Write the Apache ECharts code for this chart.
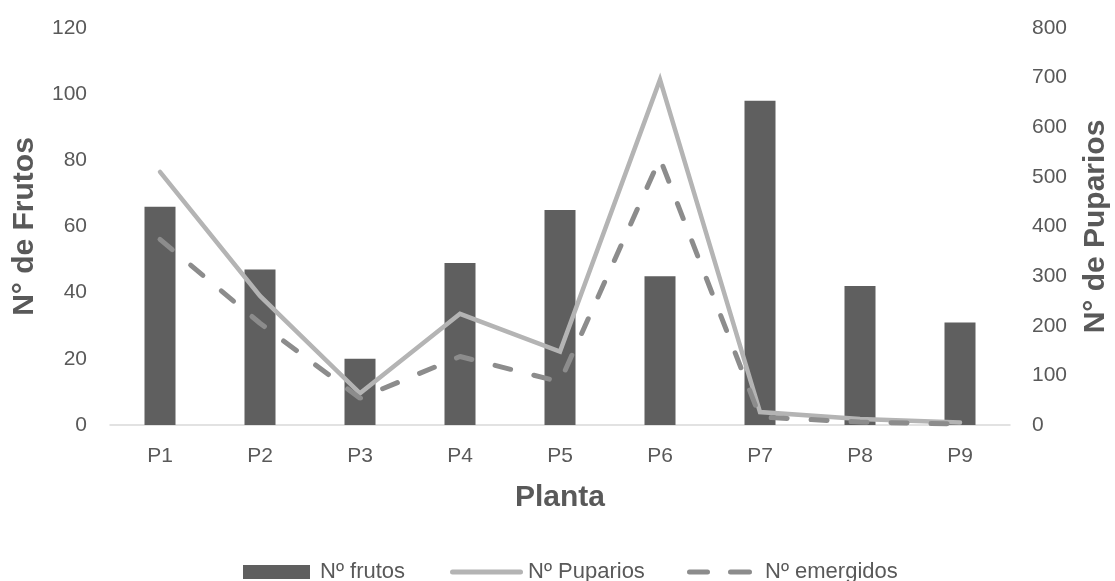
<!DOCTYPE html>
<html>
<head>
<meta charset="utf-8">
<script src="https://cdn.jsdelivr.net/npm/echarts@6/dist/echarts.min.js"></script>
<style>
html,body{margin:0;padding:0;background:#fff;}
#c{width:1115px;height:581px;}
</style>
</head>
<body>
<div id="c"></div>
<script>
const categories = ['P1','P2','P3','P4','P5','P6','P7','P8','P9'];
const frutos = [66, 47, 20, 49, 65, 45, 98, 42, 31];
const puparios = [510, 260, 64, 224, 148, 696, 26, 12, 5];
const emergidos = [374, 205, 54, 138, 87, 537, 16, 6, 2];
const leftTicks = { min: 0, max: 120, interval: 20 };
const rightTicks = { min: 0, max: 800, interval: 100 };

const FONT = 'Liberation Sans';
const TXT = '#595959';

const solidIcon = 'path://M2.5,0 H70.5 A2.5,2.5 0 0 1 70.5,5 H2.5 A2.5,2.5 0 0 1 2.5,0 Z';
const dashIcon = 'path://M2.5,0 H20.5 A2.5,2.5 0 0 1 20.5,5 H2.5 A2.5,2.5 0 0 1 2.5,0 Z M43.5,0 H62.5 A2.5,2.5 0 0 1 62.5,5 H43.5 A2.5,2.5 0 0 1 43.5,0 Z';

const chart = echarts.init(document.getElementById('c'), null, { renderer: 'canvas' });
const legendText = { color: TXT, fontFamily: FONT, fontSize: 22 };
chart.setOption({
  animation: false,
  backgroundColor: '#ffffff',
  grid: { left: 110, right: 105, top: 28, bottom: 156, outerBoundsMode: 'none', containLabel: false },
  legend: [
    { data: [{ name: 'Nº frutos', icon: 'rect' }], left: 238, top: 556, itemWidth: 67, itemHeight: 14,
      textStyle: Object.assign({ padding: [0, 0, 0, 5] }, legendText) },
    { data: [{ name: 'Nº Puparios', icon: solidIcon }], left: 445, top: 556, itemWidth: 73, itemHeight: 5,
      textStyle: legendText },
    { data: [{ name: 'Nº emergidos', icon: dashIcon }], left: 682, top: 556, itemWidth: 65, itemHeight: 5,
      textStyle: Object.assign({ padding: [0, 0, 0, 8] }, legendText) }
  ],
  xAxis: {
    type: 'category',
    data: categories,
    name: 'Planta',
    nameLocation: 'middle',
    nameGap: 58,
    nameTextStyle: { fontFamily: FONT, fontWeight: 'bold', fontSize: 30, color: TXT },
    axisLine: { lineStyle: { color: '#d9d9d9', width: 1.5 } },
    axisTick: { show: false },
    axisLabel: { color: TXT, fontFamily: FONT, fontSize: 21, margin: 21 }
  },
  yAxis: [
    {
      type: 'value', min: leftTicks.min, max: leftTicks.max, interval: leftTicks.interval,
      name: 'N° de Frutos', nameLocation: 'middle', nameGap: 70, nameRotate: 90,
      nameTextStyle: { fontFamily: FONT, fontWeight: 'bold', fontSize: 30, color: TXT },
      splitLine: { show: false }, axisLine: { show: false }, axisTick: { show: false },
      axisLabel: { color: TXT, fontFamily: FONT, fontSize: 21, margin: 23 }
    },
    {
      type: 'value', min: rightTicks.min, max: rightTicks.max, interval: rightTicks.interval,
      position: 'right',
      name: 'N° de Puparios', nameLocation: 'middle', nameGap: 71, nameRotate: 90,
      nameTextStyle: { fontFamily: FONT, fontWeight: 'bold', fontSize: 30, color: TXT },
      splitLine: { show: false }, axisLine: { show: false }, axisTick: { show: false },
      axisLabel: { color: TXT, fontFamily: FONT, fontSize: 21, margin: 22 }
    }
  ],
  series: [
    {
      name: 'Nº frutos', type: 'bar', data: frutos, yAxisIndex: 0,
      barWidth: 31,
      itemStyle: { color: '#5f5f5f' }
    },
    {
      name: 'Nº Puparios', type: 'line', data: puparios, yAxisIndex: 1,
      symbol: 'none',
      lineStyle: { color: '#b4b4b4', width: 4.5, cap: 'round', join: 'miter' },
      itemStyle: { color: '#b4b4b4' }
    },
    {
      name: 'Nº emergidos', type: 'line', data: emergidos, yAxisIndex: 1,
      symbol: 'none',
      lineStyle: { color: '#8c8c8c', width: 5, type: [16, 24], cap: 'round' },
      itemStyle: { color: '#8c8c8c' }
    }
  ]
});
</script>
</body>
</html>
